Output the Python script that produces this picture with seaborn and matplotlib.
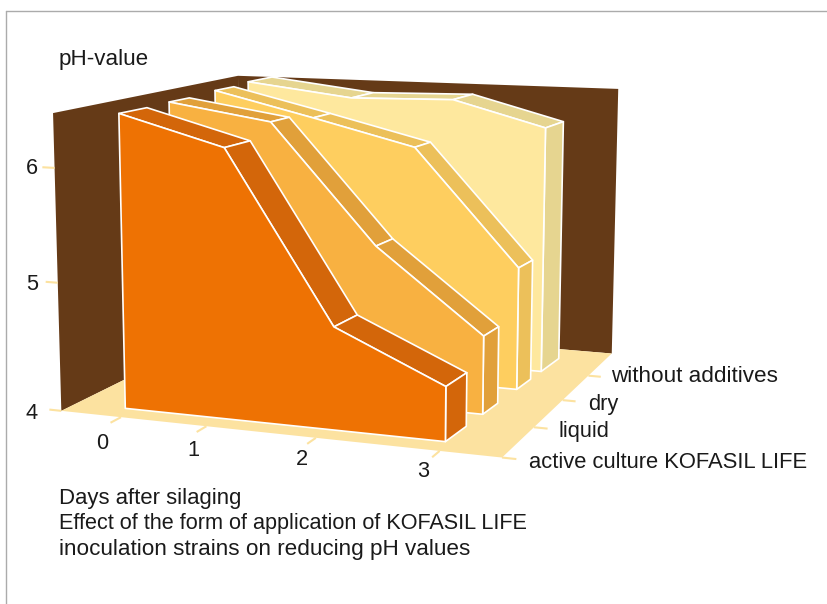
import numpy as np
import matplotlib
matplotlib.use('Agg')
import matplotlib.pyplot as plt
import seaborn as sns
from matplotlib.lines import Line2D
from mpl_toolkits.mplot3d.art3d import Poly3DCollection

days = [0, 1, 2, 3]
series_names = ['active culture KOFASIL LIFE', 'liquid', 'dry', 'without additives']
active_culture = [6.46, 6.21, 4.78, 4.41]
liquid = [6.47, 6.33, 5.28, 4.61]
dry = [6.49, 6.27, 6.04, 4.99]
without_additives = [6.51, 6.39, 6.41, 6.18]
ph_ticks = [6, 5, 4]

series_values = [active_culture, liquid, dry, without_additives]
# kinks of the last series sit a little later in the picture
series_days = [days, days, days, [0, 1.08, 2.1, 3]]
plane_front = [0.30, 1.27, 2.25, 3.02]
plane_back = [0.83, 1.69, 2.68, 3.61]

face_colors = ['#EE7203', '#F8B141', '#FECE5F', '#FEE89E']
side_colors = ['#D3660A', '#E1A03A', '#ECC05A', '#E6D590']
wall_color = '#653A17'
floor_color = '#FCE2A0'
text_color = '#1A1A1A'

sns.set_theme(style='white')
plt.rcParams['font.family'] = ['Liberation Sans', 'DejaVu Sans']

W, H = 827, 604
fig = plt.figure(figsize=(W / 100, H / 100), dpi=100)

# camera fitted to the box corners of the picture
S = 647.35
ax = fig.add_axes([20.65 / W, 29.38 / H, S / W, S / H], projection='3d')
ax.set_box_aspect((1, 0.9551, 0.6525))
ax.view_init(elev=10.083, azim=-69.19)
ax.set_proj_type('persp', focal_length=0.5417)
ax.set_xlim(-0.49, 3.55)
ax.set_ylim(0, 4)
ax.set_zlim(0, 1)
ax.set_axis_off()
ax.computed_zorder = False
ax.patch.set_alpha(0)
X0, X1 = -0.49, 3.55
TOP = 1.0


# the ph axis of the picture is not quite linear
def ph_to_z(ph):
    return np.interp(ph, [4, 5, 6, 6.6], [0, 0.437, 0.82, 1.05])


# columns fan out a little towards the back
def day_x(day, y):
    frac = y / 4
    return day * (0.993 + 0.026 * frac) + 0.08 * frac - 0.02


def add_poly(pts, color, z, edge='none'):
    ax.add_collection3d(Poly3DCollection([pts], facecolors=color, edgecolors=edge,
                                         linewidths=1.2, zorder=z))


add_poly([(X0, 4, 0), (X1, 4, 0), (X1, 4, TOP), (X0, 4, TOP)], wall_color, 1)
add_poly([(X0, 0, 0), (X0, 4, 0), (X0, 4, TOP), (X0, 0, TOP)], wall_color, 1)
add_poly([(X0, 0, 0), (X1, 0, 0), (X1, 4, 0), (X0, 4, 0)], floor_color, 2)

# back series first so the front ones cover them
for i in [3, 2, 1, 0]:
    yf, yb = plane_front[i], plane_back[i]
    z = ph_to_z(series_values[i])
    dd = series_days[i]
    base = 10 + (3 - i) * 10
    for k in range(len(dd) - 1):
        strip = [(day_x(dd[k], yf), yf, z[k]), (day_x(dd[k + 1], yf), yf, z[k + 1]),
                 (day_x(dd[k + 1], yb), yb, z[k + 1]), (day_x(dd[k], yb), yb, z[k])]
        add_poly(strip, side_colors[i], base, 'white')
    end = [(day_x(dd[-1], yf), yf, 0), (day_x(dd[-1], yb), yb, 0),
           (day_x(dd[-1], yb), yb, z[-1]), (day_x(dd[-1], yf), yf, z[-1])]
    add_poly(end, side_colors[i], base + 1, 'white')
    front = [(day_x(d, yf), yf, zz) for d, zz in zip(dd, z)]
    front += [(day_x(dd[-1], yf), yf, 0), (day_x(dd[0], yf), yf, 0)]
    add_poly(front, face_colors[i], base + 2, 'white')

# ticks, same colour as the floor
tick_style = dict(color=floor_color, lw=1.5, zorder=3, solid_capstyle='butt')
for ph in ph_ticks:
    ax.plot([X0, X0 - 0.12], [0, 0], [ph_to_z(ph), ph_to_z(ph)], **tick_style)
for tx in [0.10, 0.92, 1.93, 3.02]:
    ax.plot([tx, tx], [0, -0.2], [0, 0], **tick_style)
for ty in [0, 1, 2, 3]:
    ax.plot([X1, X1 + 0.12], [ty, ty], [0, 0], **tick_style)


def label(x, y, s, ha='left', size=15.7):
    fig.text(x / W, 1 - (y + 1.5) / H, s, ha=ha, va='center', fontsize=size, color=text_color)


label(59, 58, 'pH-value', size=16.1)
for s, yy in zip(ph_ticks, [167, 283, 412]):
    label(32, yy, str(s), ha='center')
for s, xx, yy in zip(days, [102, 193, 302, 423], [442, 449, 458, 470]):
    label(xx, yy, str(s), ha='center')
for s, xx, yy, sz in zip(series_names, [529, 559, 588, 611], [461, 430, 403, 375], [15.8, 15.7, 15.7, 16.2]):
    label(xx, yy, s, size=sz)
label(59, 497, 'Days after silaging', size=15.9)
label(59, 522, 'Effect of the form of application of KOFASIL LIFE', size=15.6)
label(59, 548, 'inoculation strains on reducing pH values', size=16.2)

# thin grey frame, top and left only
frame = dict(color='#ABABAB', lw=1.0, transform=fig.transFigure)
fig.add_artist(Line2D([5.5 / W, 1], [1 - 10.5 / H, 1 - 10.5 / H], **frame))
fig.add_artist(Line2D([5.5 / W, 5.5 / W], [0, 1 - 10.5 / H], **frame))

fig.savefig('out.png', dpi=100)
